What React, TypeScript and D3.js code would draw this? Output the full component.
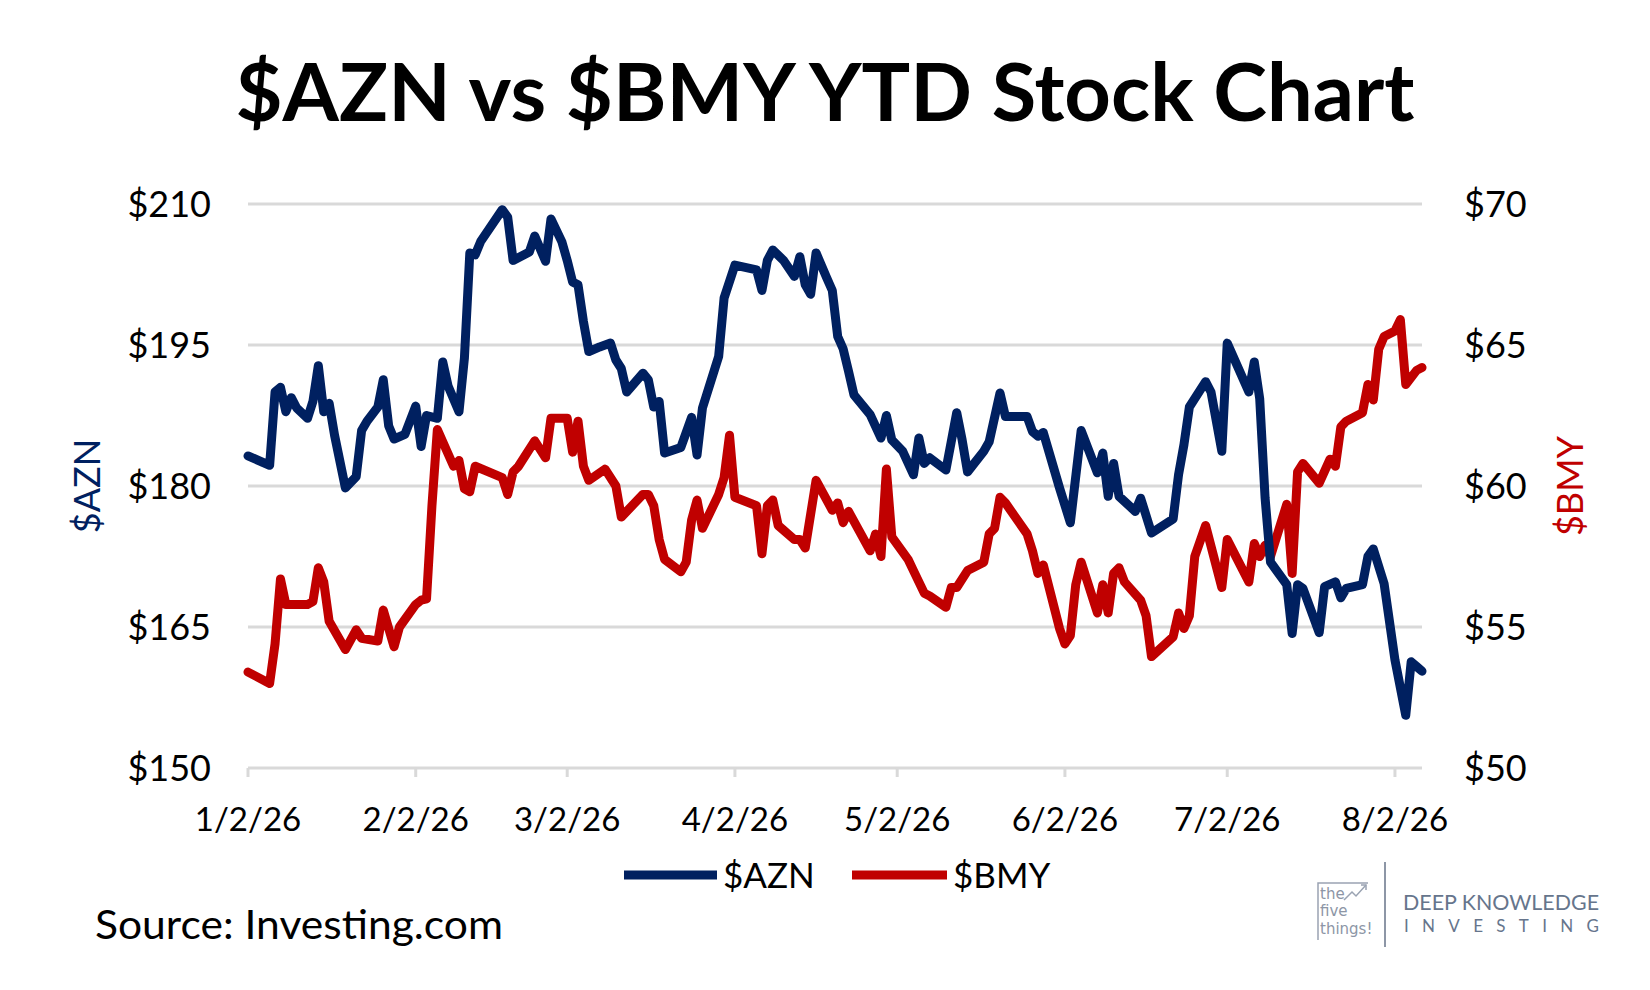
import React from "react";
import * as d3 from "d3";

// ---- data ----
// Day offsets are days since 2026-01-02 (start of the date axis)
const START = new Date(2026, 0, 2);
const END_DAY = 217; // 2026-08-07

const azDay = [0,4,5,6,7,8,9,11,12,13,14,15,16,18,20,21,22,24,25,26,27,29,31,32,33,35,36,37,39,40,41,42,43,47,48,49,52,53,
  55,56,58,59,60,61,62,63,65,67,68,69,70,73,74,75,76,77,80,82,83,84,87,88,90,94,95,96,97,99,101,102,103,104,105,107,108,109,110,
  111,112,115,117,118,119,121,123,124,125,126,129,131,132,133,136,137,139,140,144,145,146,147,150,152,154,157,158,159,160,161,164,165,
  167,171,172,173,174,177,178,180,181,185,186,187,188,189,192,193,194,195,198,199,201,202,203,206,207,208,210,212,214,215,216,217];
const azValue = [183.2,182.2,190.0,190.5,187.9,189.4,188.3,187.2,189.0,192.8,187.9,188.8,185.4,179.8,181.0,185.9,186.9,188.4,191.3,186.4,185.0,185.5,188.5,184.2,187.5,187.2,193.2,190.6,187.9,193.6,204.8,204.6,206.0,209.4,208.6,204.0,204.9,206.6,
  203.9,208.4,206.0,204.0,201.7,201.4,197.5,194.3,194.8,195.2,193.4,192.5,190.0,192.0,191.3,188.4,189.0,183.5,184.1,187.3,183.3,188.3,193.8,200.0,203.5,203.0,200.8,204.0,205.1,204.0,202.3,204.4,201.4,200.4,204.8,202.1,200.8,195.9,194.6,
  192.2,189.7,187.6,185.1,187.5,184.9,183.7,181.2,185.1,182.4,183.0,181.7,187.8,184.9,181.5,183.7,184.7,189.9,187.4,187.4,185.8,185.3,185.7,179.8,176.1,185.9,181.4,183.5,178.9,182.4,178.9,177.3,178.7,
  175.0,176.5,181.2,184.4,188.4,191.1,190.0,183.7,195.2,190.0,193.2,189.3,178.7,171.9,169.5,164.3,169.5,169.1,164.4,169.3,169.8,168.1,169.1,169.5,172.5,173.3,169.6,161.5,155.6,161.3,160.8,160.3];

const bmDay = [0,4,5,6,7,11,12,13,14,15,18,20,21,24,25,27,28,31,32,33,34,35,38,39,40,41,42,47,48,49,50,53,
  55,56,59,60,61,62,63,66,68,69,73,74,75,76,77,80,81,82,83,84,87,88,89,90,94,95,96,97,98,101,102,103,105,108,109,110,
  111,113,115,116,117,118,119,122,123,125,126,129,130,131,133,136,137,138,139,140,144,145,146,147,150,151,152,153,154,157,158,159,160,161,162,165,
  166,167,171,172,173,174,175,177,180,181,185,186,187,188,189,192,193,194,195,198,200,201,202,203,206,207,208,209,210,212,213,214,216,217];
const bmValue = [53.4,53.0,54.4,56.7,55.8,55.8,55.9,57.1,56.6,55.2,54.2,54.9,54.6,54.5,55.6,54.3,55.0,55.8,55.95,56.0,59.3,62.0,60.7,60.9,59.9,59.8,60.7,60.3,59.7,60.5,60.7,61.6,
  61.0,62.4,62.4,61.2,62.3,60.7,60.2,60.6,60.0,58.9,59.7,59.7,59.3,58.1,57.4,56.96,57.3,58.8,59.5,58.5,59.7,60.3,61.8,59.6,59.3,57.6,59.3,59.5,58.6,58.1,58.1,57.8,60.2,59.14,59.4,58.7,
  59.1,58.4,57.7,58.3,57.5,60.6,58.2,57.4,57.0,56.2,56.1,55.7,56.4,56.4,57.0,57.3,58.3,58.5,59.6,59.4,58.3,57.7,56.9,57.2,54.95,54.4,54.7,56.5,57.3,55.5,56.5,55.5,56.9,57.1,56.6,55.95,
  55.4,53.95,54.65,55.5,54.95,55.4,57.5,58.6,56.4,58.1,56.6,57.96,57.5,57.9,57.5,59.35,56.9,60.5,60.8,60.1,60.95,60.7,62.1,62.3,62.6,63.6,63.05,64.85,65.3,65.5,65.9,63.6,64.1,64.2];

const leftTicks = [150, 165, 180, 195, 210];
const rightTicks = [50, 55, 60, 65, 70];
const xTickMonths = [0, 1, 2, 3, 4, 5, 6, 7]; // month offsets from 1/2/26

const NAVY = "#002060";
const RED = "#C00000";
const GRID = "#d9d9d9";
const FONT = "Lato, 'Open Sans', sans-serif";

export default function App() {
  const left = 248, right = 1422, top = 204, bottom = 768;
  const endDate = d3.timeDay.offset(START, END_DAY);
  const x = d3.scaleTime().domain([START, endDate]).range([left, right]);
  const yL = d3.scaleLinear().domain([150, 210]).range([bottom, top]);
  const yR = d3.scaleLinear().domain([50, 70]).range([bottom, top]);

  const az = azDay.map((d, i) => ({ date: d3.timeDay.offset(START, d), v: azValue[i] }));
  const bm = bmDay.map((d, i) => ({ date: d3.timeDay.offset(START, d), v: bmValue[i] }));

  const lineL = d3.line<{ date: Date; v: number }>().x(d => x(d.date)).y(d => yL(d.v));
  const lineR = d3.line<{ date: Date; v: number }>().x(d => x(d.date)).y(d => yR(d.v));

  const fmt = d3.timeFormat("%-m/%-d/%y");
  const xTicks = xTickMonths.map(m => d3.timeMonth.offset(START, m));

  return (
    <svg width={1650} height={990} style={{ position: "absolute", left: 0, top: 0, background: "#fff" }} fontFamily={FONT}>
      <rect x={0} y={0} width={1650} height={990} fill="#fff" />
      <text x={825} y={121} textAnchor="middle" fontSize={80} fontWeight={700} fill="#000" textLength={1179} lengthAdjust="spacingAndGlyphs">
        $AZN vs $BMY YTD Stock Chart
      </text>

      {/* gridlines */}
      {leftTicks.map(t => (
        <line key={t} x1={left} x2={right} y1={yL(t)} y2={yL(t)} stroke={GRID} strokeWidth={3} />
      ))}
      {/* x ticks */}
      {xTicks.map((d, i) => (
        <g key={i}>
          <line x1={x(d)} x2={x(d)} y1={bottom} y2={bottom + 9} stroke={GRID} strokeWidth={3} />
          <text x={x(d)} y={831} textAnchor="middle" fontSize={33} fill="#000">{fmt(d)}</text>
        </g>
      ))}
      {/* left ticks */}
      {leftTicks.map(t => (
        <text key={t} x={211} y={yL(t) + 13} textAnchor="end" fontSize={36} fill="#000">${t}</text>
      ))}
      {rightTicks.map(t => (
        <text key={t} x={1464} y={yR(t) + 13} textAnchor="start" fontSize={36} fill="#000">${t}</text>
      ))}
      {/* axis titles */}
      <text transform={`translate(100,${(top + bottom) / 2}) rotate(-90)`} textAnchor="middle" fontSize={36} fill={NAVY}>$AZN</text>
      <text transform={`translate(1583,${(top + bottom) / 2}) rotate(-90)`} textAnchor="middle" fontSize={36} fill={RED}>$BMY</text>

      {/* lines */}
      <path d={lineR(bm) || ""} fill="none" stroke={RED} strokeWidth={9} strokeLinejoin="round" strokeLinecap="round" />
      <path d={lineL(az) || ""} fill="none" stroke={NAVY} strokeWidth={9} strokeLinejoin="round" strokeLinecap="round" />

      {/* legend */}
      <line x1={624} x2={717} y1={875} y2={875} stroke={NAVY} strokeWidth={9} />
      <text x={723} y={888} fontSize={35} fill="#000">$AZN</text>
      <line x1={852} x2={947} y1={875} y2={875} stroke={RED} strokeWidth={9} />
      <text x={953} y={888} fontSize={35} fill="#000">$BMY</text>

      {/* source */}
      <text x={95} y={939} fontSize={40} fill="#000" textLength={408} lengthAdjust="spacingAndGlyphs">Source: Investing.com</text>

      {/* logo */}
      <g fill="none" stroke="#9aa3b2" strokeWidth={1.5}>
        <polyline points="1368,883 1318,883 1318,940" />
        <polyline points="1344,900 1352,892 1356,896 1366,885" />
        <polyline points="1361,885 1366,885 1366,890" />
      </g>
      <g fill="#8d96a6" fontSize={15} fontFamily="'DejaVu Sans', sans-serif">
        <text x={1320} y={899}>the</text>
        <text x={1320} y={916}>five</text>
        <text x={1320} y={934}>things!</text>
      </g>
      <line x1={1385} x2={1385} y1={862} y2={947} stroke="#8d96a6" strokeWidth={2} />
      <text x={1403} y={910} fontSize={22} fill="#66758c" textLength={196} lengthAdjust="spacingAndGlyphs" fontFamily="Lato, sans-serif">DEEP KNOWLEDGE</text>
      <text x={1404} y={932} fontSize={17} fill="#66758c" textLength={195} lengthAdjust="spacing" fontFamily="Lato, sans-serif">INVESTING</text>
    </svg>
  );
}
